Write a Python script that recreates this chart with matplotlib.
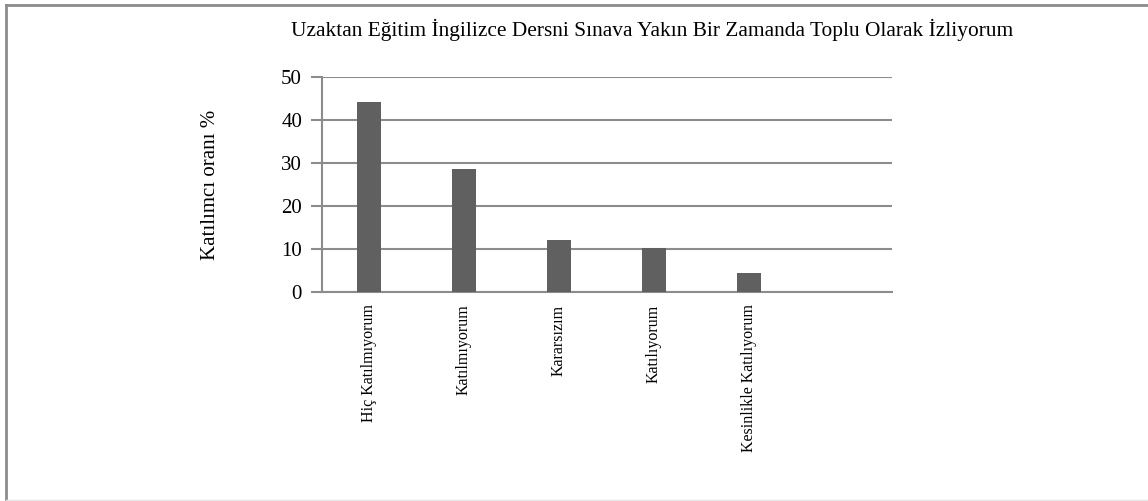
import matplotlib.pyplot as plt
from matplotlib.lines import Line2D

plt.rcParams['font.family'] = ['Liberation Serif', 'DejaVu Serif']

categories = ["Hiç Katılmıyorum", "Katılmıyorum", "Kararsızım", "Katılıyorum",
              "Kesinlikle Katılıyorum"]
values = [44.3, 28.5, 12.0, 10.2, 4.5]
n_slots = 6  # one empty slot on the right

fig = plt.figure(figsize=(11.48, 5.01), dpi=100)
ax = fig.add_axes([321.5 / 1148, 1 - 292 / 501, 570 / 1148, 215 / 501])

x = list(range(len(categories)))
ax.bar(x, values, width=0.25, color="#606060", zorder=3)

ax.set_xlim(-0.5, n_slots - 0.5)
ax.set_ylim(0, 50)
ax.set_yticks([0, 10, 20, 30, 40, 50])
ax.set_xticks(x)
ax.set_xticklabels(categories, rotation=90, fontsize=11.5, va="top")
ax.tick_params(axis="x", length=0, pad=9)
ax.tick_params(axis="y", length=8, width=1.5, color="#8c8c8c", labelsize=15, pad=6)
ax.yaxis.grid(True, color="#8c8c8c", linewidth=1.5, zorder=0)

for s in ["top", "right"]:
    ax.spines[s].set_visible(False)
for s in ["left", "bottom"]:
    ax.spines[s].set_color("#8c8c8c")
    ax.spines[s].set_linewidth(1.5)

ax.set_ylabel("Katılımcı oranı %", fontsize=15, labelpad=44)
fig.text(652 / 1148, 1 - 30 / 501, "Uzaktan Eğitim İngilizce Dersni Sınava Yakın Bir Zamanda Toplu Olarak İzliyorum",
         ha="center", va="center", fontsize=15.4)

# outer frame
fig.add_artist(Line2D([6 / 1148, 6 / 1148], [0, 1 - 4.5 / 501], color="#8c8c8c", linewidth=2,
                      transform=fig.transFigure))
fig.add_artist(Line2D([6 / 1148, 1], [1 - 4.5 / 501, 1 - 4.5 / 501], color="#8c8c8c", linewidth=2,
                      transform=fig.transFigure))
fig.add_artist(Line2D([6 / 1148, 1], [1 / 501, 1 / 501], color="#e6e6e6", linewidth=1,
                      transform=fig.transFigure))

fig.savefig("out.png", dpi=100)
